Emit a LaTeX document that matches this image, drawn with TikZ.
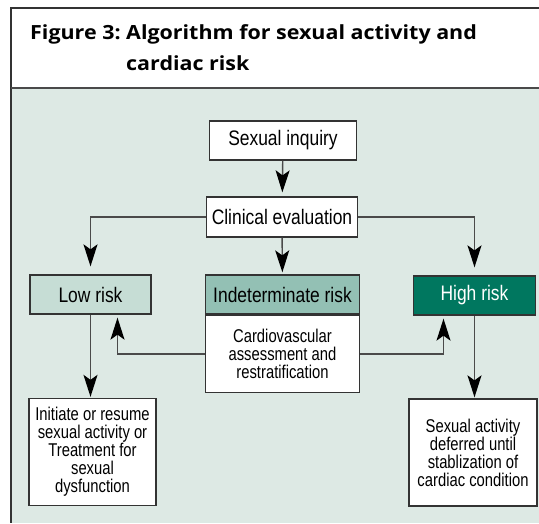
\documentclass[tikz,border=0pt]{standalone}
\usepackage{fontspec}
\setmainfont{Liberation Sans}
\newfontfamily\boxfont[FakeStretch=0.8]{Liberation Sans}
\newfontfamily\labelfont[FakeStretch=0.83]{Liberation Sans}
\newfontfamily\titlefont[FakeStretch=1.1]{Open Sans}
\usetikzlibrary{arrows.meta,positioning}
\definecolor{panel}{HTML}{DDE9E4}
\definecolor{lowfill}{HTML}{C6DDD5}
\definecolor{midfill}{HTML}{93C0B4}
\definecolor{highfill}{HTML}{00775F}
\definecolor{linegray}{HTML}{4A4A4A}
\definecolor{boxline}{HTML}{333333}
\tikzset{flow/.style = {draw=linegray, line width=1.4pt,
    -{Stealth[length=22pt,width=14pt,inset=5pt,color=black]}}}

\begin{document}
\begin{tikzpicture}[x=1pt,y=-1pt,
    box/.style={draw=boxline,line width=1.3pt,fill=white,
        inner sep=0pt,align=center},
    onebox/.style={box,font={\labelfont\fontsize{21}{22}\selectfont}},
    multibox/.style={box,font={\boxfont\fontsize{18.5}{18}\selectfont}},
    ]
    \useasboundingbox (0,0) rectangle (539,523);

    % Frame and panel
    \fill[white] (11,8) rectangle (539,88);
    \fill[panel] (11,88) rectangle (539,523);
    \draw[boxline,line width=1.5pt] (539,8) -- (11,8) -- (11,523);
    \draw[linegray,line width=2pt] (11,88) -- (539,88);

    % Title
    \node[anchor=base west,inner sep=0pt,
        font={\titlefont\bfseries\fontsize{19.5}{31}\selectfont}] (title) at (30,39)
        {\begin{tabular}[t]{@{}l@{\ }l@{}}Figure 3: & Algorithm for sexual activity and\\
         & cardiac risk\end{tabular}};

    % Boxes
    \node[onebox,minimum width=147pt,minimum height=39pt] (inquiry) at (283,140.5) {Sexual inquiry};
    \node[onebox,minimum width=151pt,minimum height=40pt] (clinical) at (282,217) {Clinical evaluation};
    \node[onebox,fill=lowfill,minimum width=121pt,minimum height=39pt] (low) at (90.5,294.5) {Low risk};
    \node[onebox,fill=midfill,minimum width=154pt,minimum height=39pt] (indet) at (282.5,294.5) {Indeterminate risk};
    \node[multibox,minimum width=154pt,minimum height=77pt,anchor=north] (cardio) at (indet.south)
        {Cardiovascular\\assessment and\\restratification};
    \node[onebox,fill=highfill,text=white,minimum width=122pt,minimum height=39pt] (high) at (474.5,295.5) {High risk};
    \node[multibox,minimum width=127pt,minimum height=107pt] (resume) at (92.5,452)
        {Initiate or resume\\sexual activity or\\Treatment for\\sexual\\dysfunction};
    \node[multibox,minimum width=128pt,minimum height=107pt] (defer) at (473,452.5)
        {Sexual activity\\deferred until\\stablization of\\cardiac condition};

    % Connectors
    \draw[flow,shorten >=4pt] (inquiry) -- (clinical);
    \draw[flow,shorten >=8pt] (clinical.west) -| (low.north);
    \draw[flow,shorten >=8pt] (clinical.east) -| (high.north);
    \draw[flow,shorten >=2pt] (clinical) -- (indet);
    \draw[flow,shorten >=3pt] (cardio.west) -| ([xshift=27pt]low.south);
    \draw[flow,shorten >=3pt] (cardio.east) -| ([xshift=-31pt]high.south);
    \draw[flow,shorten >=1pt] (low.south) -- (low.south |- resume.north);
    \draw[flow,shorten >=1pt] (high.south) -- (high.south |- defer.north);

\end{tikzpicture}
\end{document}
